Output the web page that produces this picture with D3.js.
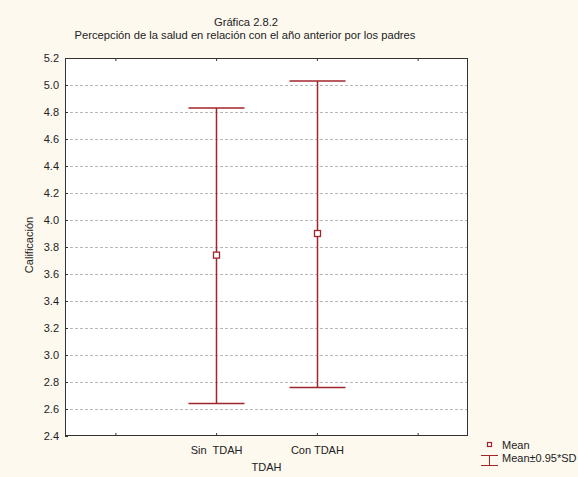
<!DOCTYPE html>
<html><head><meta charset="utf-8">
<script src="https://cdn.jsdelivr.net/npm/d3@7"></script>
<style>body{margin:0;background:#fdf9ef}text{font-family:"Liberation Sans",Arial,sans-serif;fill:#222;white-space:pre}</style>
</head><body><svg id="c" width="578" height="477"></svg>
<script>
const categories = ["", "Sin  TDAH", "Con TDAH", ""];
const means = [3.74, 3.90];
const upper = [4.83, 5.03];
const lower = [2.64, 2.76];
const yTicks = [2.4,2.6,2.8,3.0,3.2,3.4,3.6,3.8,4.0,4.2,4.4,4.6,4.8,5.0,5.2];
const title = "Gráfica 2.8.2";
const subtitle = "Percepción de la salud en relación con el año anterior por los padres";
const xLabel = "TDAH", yLabel = "Calificación";

const svg = d3.select("#c");
const L=65,R=468,T=58,B=436;
const x = d3.scaleLinear().domain([-0.5,3.5]).range([L,R]);
const y = d3.scaleLinear().domain([2.4,5.2]).range([B,T]);
const red="#a0262c";
svg.append("rect").attr("width",578).attr("height",477).attr("fill","#fdf9ef");
svg.append("rect").attr("x",L).attr("y",T).attr("width",R-L).attr("height",B-T).attr("fill","#fff");
// grid
svg.append("g").selectAll("line").data(yTicks.slice(1,-1)).join("line")
 .attr("x1",L).attr("x2",R).attr("y1",d=>Math.round(y(d))+0.5).attr("y2",d=>Math.round(y(d))+0.5)
 .attr("stroke","#b8b8b8").attr("stroke-dasharray","3,2");
// axes
const yAx = svg.append("g").attr("transform",`translate(${L},0)`).call(d3.axisLeft(y).tickValues(yTicks).tickFormat(d3.format(".1f")).tickSize(-3).tickPadding(6));
const xAx = svg.append("g").attr("transform",`translate(0,${B})`).call(d3.axisBottom(x).tickValues([0,1,2,3]).tickFormat(i=>categories[i]).tickSize(-3).tickPadding(10));
const xTop = svg.append("g").attr("transform",`translate(0,${T})`).call(d3.axisTop(x).tickValues([0,1,2,3]).tickFormat("").tickSize(-3));
[yAx,xAx,xTop].forEach(g=>{g.select(".domain").remove();g.selectAll("line").attr("stroke","#333");g.selectAll("text").attr("font-size",11).attr("fill","#222").attr("font-family","Liberation Sans, Arial, sans-serif");});
svg.append("rect").attr("x",L+0.5).attr("y",T+0.5).attr("width",R-L-1).attr("height",B-T-1).attr("fill","none").attr("stroke","#333");
// error bars
const idx=[1,2];
const g = svg.append("g");
idx.forEach((c,i)=>{
  const cx=Math.round(x(c))+0.5;
  g.append("line").attr("x1",cx).attr("x2",cx).attr("y1",y(upper[i])).attr("y2",y(lower[i])).attr("stroke",red).attr("stroke-width",1.5);
  [upper[i],lower[i]].forEach(v=>g.append("line").attr("x1",cx-28).attr("x2",cx+28).attr("y1",y(v)).attr("y2",y(v)).attr("stroke",red).attr("stroke-width",1.5));
  g.append("rect").attr("x",cx-3).attr("y",y(means[i])-3).attr("width",6).attr("height",6).attr("fill","#fff").attr("stroke",red).attr("stroke-width",1.3);
});
// titles
svg.append("text").attr("x",246).attr("y",26).attr("text-anchor","middle").attr("font-size",11.2).text(title);
svg.append("text").attr("x",245).attr("y",39).attr("text-anchor","middle").attr("font-size",11.2).text(subtitle);
svg.append("text").attr("x",(L+R)/2).attr("y",471).attr("text-anchor","middle").attr("font-size",11).text(xLabel);
svg.append("text").attr("transform",`translate(33,${(T+B)/2-2}) rotate(-90)`).attr("text-anchor","middle").attr("font-size",11).text(yLabel);
// legend
svg.append("rect").attr("x",487.5).attr("y",442.5).attr("width",4).attr("height",4).attr("fill","#fff").attr("stroke",red).attr("stroke-width",1.2);
svg.append("text").attr("x",502).attr("y",449).attr("font-size",11).text("Mean");
svg.append("line").attr("x1",481).attr("x2",498).attr("y1",455.5).attr("y2",455.5).attr("stroke",red);
svg.append("line").attr("x1",481).attr("x2",498).attr("y1",465.5).attr("y2",465.5).attr("stroke",red);
svg.append("line").attr("x1",489.5).attr("x2",489.5).attr("y1",455.5).attr("y2",465.5).attr("stroke",red);
svg.append("text").attr("x",502).attr("y",462).attr("font-size",11).text("Mean±0.95*SD");
</script></body></html>
